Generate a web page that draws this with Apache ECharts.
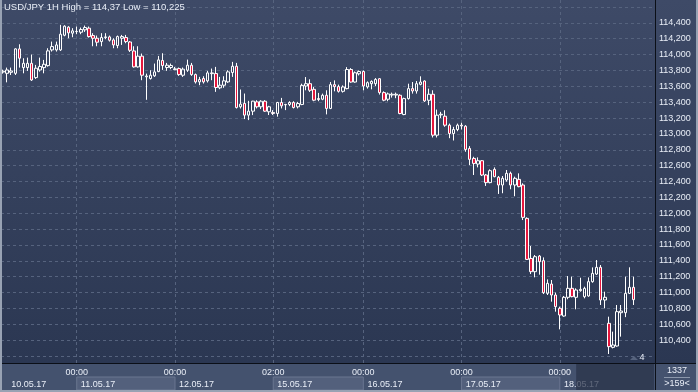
<!DOCTYPE html>
<html><head><meta charset="utf-8">
<script src="https://cdn.jsdelivr.net/npm/echarts@6/dist/echarts.min.js"></script>
<style>html,body{margin:0;padding:0;background:#44526e;}#c{width:698px;height:392px;}</style>
</head><body><div id="c"></div>
<script>
// ---- data (USD/JPY 1H) ----
const open = [113.78,113.764,113.777,113.764,114.072,113.836,113.836,113.89,113.71,113.806,113.836,113.861,114.059,114.059,114.059,114.244,114.346,114.27,114.29,114.282,114.312,114.333,114.24,114.206,114.164,114.215,114.223,114.185,114.114,114.206,114.215,114.159,114.046,113.845,113.98,113.72,113.698,113.732,113.786,113.925,113.837,113.837,113.81,113.824,113.74,113.803,113.866,113.748,113.656,113.698,113.669,113.76,113.761,113.581,113.614,113.656,113.774,113.853,113.342,113.384,113.237,113.287,113.404,113.342,113.412,113.279,113.271,113.258,113.396,113.367,113.371,113.396,113.342,113.371,113.604,113.633,113.562,113.446,113.437,113.487,113.321,113.621,113.596,113.537,113.571,113.812,113.654,113.758,113.787,113.592,113.633,113.633,113.696,113.521,113.437,113.49,113.49,113.487,113.244,113.445,113.571,113.541,113.625,113.667,113.424,113.5,112.984,113.24,113.223,113.11,113.005,113.055,113.11,113.097,112.817,112.691,112.62,112.662,112.482,112.386,112.553,112.453,112.356,112.419,112.503,112.356,112.427,112.356,111.935,111.43,111.263,111.46,111.402,110.99,111.107,110.969,110.801,110.704,110.94,111.053,110.94,111.024,110.948,110.957,111.137,111.233,111.318,110.906,110.612,110.309,110.326,110.746,110.746,110.99,111.066];
const close = [113.79,113.806,113.794,114.072,113.954,113.89,113.89,113.68,113.828,113.85,113.878,114.047,114.101,114.122,114.257,114.358,114.274,114.299,114.292,114.316,114.341,114.227,114.206,114.156,114.215,114.223,114.181,114.122,114.227,114.227,114.164,114.054,113.845,113.98,113.74,113.73,113.74,113.782,113.933,113.862,113.866,113.862,113.82,113.748,113.816,113.866,113.748,113.656,113.685,113.656,113.769,113.769,113.585,113.614,113.669,113.782,113.853,113.333,113.375,113.237,113.287,113.413,113.342,113.412,113.287,113.342,113.258,113.396,113.354,113.371,113.396,113.333,113.383,113.612,113.633,113.55,113.425,113.433,113.487,113.321,113.621,113.596,113.537,113.592,113.812,113.654,113.771,113.787,113.604,113.646,113.662,113.687,113.521,113.425,113.504,113.5,113.5,113.257,113.445,113.571,113.541,113.633,113.654,113.416,113.5,112.984,113.236,113.248,113.11,113.005,113.055,113.11,113.1,112.804,112.679,112.628,112.662,112.482,112.386,112.536,112.461,112.356,112.44,112.503,112.356,112.44,112.335,111.948,111.418,111.263,111.452,111.389,110.998,111.116,110.969,110.822,110.717,110.94,111.053,110.948,111.032,111.04,111.053,111.137,111.242,111.318,110.906,110.94,110.318,110.339,110.759,110.767,110.99,111.066,110.91];
const low = [113.76,113.65,113.743,113.743,113.836,113.764,113.794,113.668,113.693,113.785,113.764,113.848,114.038,114.038,114.046,114.231,114.206,114.219,114.257,114.257,114.286,114.215,114.105,114.105,114.105,114.194,114.164,114.08,114.08,114.122,114.143,114.033,113.836,113.836,113.677,113.43,113.685,113.719,113.778,113.807,113.795,113.816,113.803,113.732,113.719,113.782,113.732,113.635,113.614,113.635,113.648,113.677,113.53,113.564,113.581,113.644,113.719,113.32,113.32,113.187,113.174,113.237,113.321,113.313,113.279,113.238,113.238,113.217,113.321,113.3,113.35,113.321,113.321,113.362,113.55,113.529,113.412,113.412,113.425,113.246,113.312,113.537,113.521,113.521,113.562,113.646,113.646,113.737,113.55,113.571,113.562,113.604,113.496,113.412,113.412,113.458,113.45,113.248,113.236,113.433,113.508,113.508,113.613,113.403,113.362,112.955,112.955,113.2,113.09,112.946,112.917,113.034,113.055,112.775,112.607,112.482,112.578,112.469,112.344,112.377,112.453,112.243,112.252,112.398,112.302,112.214,112.327,111.914,111.41,111.233,111.192,111.225,110.981,110.969,110.885,110.759,110.536,110.696,110.915,110.94,110.789,111.011,110.927,110.948,111.124,111.221,110.843,110.801,110.225,110.296,110.318,110.444,110.69,110.981,110.843];
const high = [113.81,113.836,113.836,114.08,114.13,113.954,113.962,114.0,113.87,113.962,113.933,114.08,114.164,114.164,114.375,114.37,114.358,114.333,114.353,114.341,114.366,114.354,114.27,114.24,114.27,114.27,114.24,114.206,114.24,114.248,114.248,114.17,114.105,114.105,114.013,113.76,113.803,113.887,113.983,114.017,113.895,113.887,113.845,113.837,113.837,113.937,113.895,113.761,113.719,113.727,113.795,113.824,113.845,113.719,113.727,113.803,113.908,113.895,113.56,113.509,113.417,113.417,113.425,113.425,113.425,113.354,113.3,113.404,113.454,113.379,113.412,113.412,113.404,113.633,113.717,113.688,113.592,113.517,113.508,113.55,113.654,113.675,113.621,113.612,113.842,113.829,113.787,113.8,113.8,113.662,113.675,113.704,113.704,113.537,113.521,113.521,113.521,113.5,113.457,113.633,113.654,113.667,113.726,113.675,113.571,113.55,113.307,113.278,113.298,113.13,113.089,113.13,113.14,113.11,112.846,112.712,112.704,112.67,112.495,112.553,112.578,112.469,112.469,112.545,112.524,112.461,112.503,112.377,111.948,111.587,111.473,111.473,111.443,111.166,111.158,110.999,110.822,110.957,111.208,111.2,111.053,111.187,111.074,111.191,111.317,111.41,111.347,111.011,110.696,110.507,110.843,110.843,111.2,111.318,111.2];
const slotCount = 160; // visible hourly slots
const categories = Array.from({length: slotCount}, (_, i) => String(i));
const dayStartIdx = [18, 42, 66, 88, 112, 136];
const dayStartTimes = ['00:00', '00:00', '02:00', '00:00', '00:00', '00:00'];
const dateLabelIdx = [2, 19, 43, 67, 89, 113, 137];
const dateLabels = ['10.05.17', '11.05.17', '12.05.17', '15.05.17', '16.05.17', '17.05.17', '18.05.17'];
const shadedDays = [[18, 42], [66, 88], [112, 136]];
const yMin = 110.2, yMax = 114.6, yStep = 0.2;
const titleText = 'USD/JPY 1H High = 114,37 Low = 110,225';

// ---- chart ----
const FONT = 'Liberation Sans, Arial, sans-serif';
const TXT = '#e9eef7';
const fmt = v => v.toFixed(3).replace('.', ',');
const candles = open.map((o, i) => [o, close[i], low[i], high[i]]);
const lastClose = close[close.length - 1];

const chart = echarts.init(document.getElementById('c'), null, {renderer: 'canvas'});
chart.setOption({
  animation: false,
  backgroundColor: '#44526e',
  title: {text: titleText, left: 4, top: 2, padding: 0,
    textStyle: {fontSize: 9.5, fontWeight: 'normal', color: '#e9eef7', fontFamily: FONT}},
  grid: [
    {left: 1, right: 42, top: 7, height: 349},
    {left: 1, right: 42, top: 0, height: 363},
    {left: 1, right: 42, top: 364, height: 28}
  ],
  xAxis: [
    {gridIndex: 0, type: 'category', data: categories, show: false},
    {gridIndex: 1, type: 'category', data: categories, position: 'bottom',
      axisLine: {show: false}, axisTick: {show: false}, splitLine: {show: false},
      axisLabel: {interval: (i) => dayStartIdx.includes(i), margin: 5,
        formatter: (v, i) => dayStartTimes[dayStartIdx.indexOf(i)] || '',
        fontSize: 9, color: TXT, fontFamily: FONT}},
    {gridIndex: 1, type: 'category', data: categories, position: 'bottom', offset: 14, z: 10,
      axisLine: {show: false}, axisTick: {show: false}, splitLine: {show: false},
      axisLabel: {interval: (i) => dateLabelIdx.includes(i), margin: 3, align: 'left',
        formatter: (v, i) => dateLabels[dateLabelIdx.indexOf(i)] || '',
        fontSize: 9, color: TXT, fontFamily: FONT}},
    {gridIndex: 2, type: 'category', data: categories, show: false}
  ],
  yAxis: [
    {gridIndex: 0, type: 'value', position: 'right', min: yMin, max: yMax, interval: yStep,
      axisLine: {show: false}, axisTick: {show: false},
      splitLine: {show: true, lineStyle: {color: '#56637e', type: [3, 3], width: 1}},
      axisLabel: {margin: 3, fontSize: 9, color: TXT, fontFamily: FONT, formatter: fmt,
        showMinLabel: false, showMaxLabel: false}},
    {gridIndex: 1, type: 'value', min: 0, max: 1, show: false},
    {gridIndex: 2, type: 'value', min: 0, max: 28, show: false}
  ],
  series: [
    {type: 'line', xAxisIndex: 1, yAxisIndex: 1, data: [], silent: true, z: 1,
      markLine: {silent: true, z: 1, symbol: ['none', 'none'], label: {show: false},
        lineStyle: {type: [3, 3], color: '#56637e', width: 1},
        data: dayStartIdx.map(i => ({xAxis: String(i)}))}},
    {type: 'line', xAxisIndex: 3, yAxisIndex: 2, data: [], silent: true, z: 2,
      markArea: {silent: true, z: 2, itemStyle: {color: '#53607c', borderColor: '#6a7690', borderWidth: 1},
        data: shadedDays.map(([a, b]) => [{xAxis: String(a), yAxis: 2}, {xAxis: String(b), yAxis: 15}])}},
    {type: 'line', xAxisIndex: 3, yAxisIndex: 2, data: [], silent: true, z: 20,
      markArea: {silent: true, z: 20, itemStyle: {color: 'rgba(40,50,72,0.72)'},
        data: [[{xAxis: '140', yAxis: 0}, {xAxis: String(slotCount - 1), yAxis: 28}]]}},
    {type: 'candlestick', xAxisIndex: 0, yAxisIndex: 0, z: 5, data: candles, barWidth: 3,
      itemStyle: {color: 'rgba(0,0,0,0)', color0: '#e5173d', borderColor: '#ffffff', borderColor0: '#ffffff', borderWidth: 1},
      markLine: {silent: true, z: 30, symbol: ['none', 'none'], lineStyle: {opacity: 0},
        label: {show: true, position: 'end', distance: 1, formatter: () => fmt(lastClose),
          backgroundColor: '#8e97a7', color: '#1e2637', fontSize: 9, fontFamily: FONT, padding: [2, 4, 1, 5]},
        data: [{yAxis: lastClose}]}}
  ],
  graphic: [
    {type: 'rect', silent: true, z: -100, shape: {x: 0, y: 0, width: 698, height: 363},
      style: {fill: new echarts.graphic.LinearGradient(0, 0, 0, 1, [{offset: 0, color: '#3e4a67'}, {offset: 1, color: '#2b3752'}])}},
    {type: 'line', silent: true, z: 50, shape: {x1: 0, y1: 363.5, x2: 698, y2: 363.5}, style: {stroke: '#0b0f17', lineWidth: 1}},
    {type: 'line', silent: true, z: 50, shape: {x1: 655.5, y1: 0, x2: 655.5, y2: 392}, style: {stroke: '#0b0f17', lineWidth: 1}},
    {type: 'rect', silent: true, z: 60, shape: {x: 0, y: 0, width: 2, height: 392}, style: {fill: '#98a2b3'}},
    {type: 'rect', silent: true, z: 60, shape: {x: 0, y: 390, width: 698, height: 2}, style: {fill: '#98a2b3'}},
    {type: 'rect', silent: true, z: 60, shape: {x: 696, y: 0, width: 2, height: 392}, style: {fill: '#98a2b3'}},
    {type: 'line', silent: true, z: 50, shape: {x1: 664, y1: 377.5, x2: 690, y2: 377.5}, style: {stroke: '#8b97ab', lineWidth: 1}},
    {type: 'text', silent: true, z: 50, style: {x: 677, y: 371, text: '1337', textAlign: 'center', textVerticalAlign: 'middle', fill: TXT, font: '9px ' + FONT}},
    {type: 'text', silent: true, z: 50, style: {x: 677, y: 384, text: '>159<', textAlign: 'center', textVerticalAlign: 'middle', fill: TXT, font: '9px ' + FONT}},
    {type: 'text', silent: true, z: 50, style: {x: 642, y: 358, text: '4', textAlign: 'center', textVerticalAlign: 'middle', fill: TXT, font: '9px ' + FONT}},
    {type: 'polygon', silent: true, z: 50, shape: {points: [[630, 360], [634, 356], [638, 360]]}, style: {fill: '#56637d'}}
  ]
});
</script></body></html>
